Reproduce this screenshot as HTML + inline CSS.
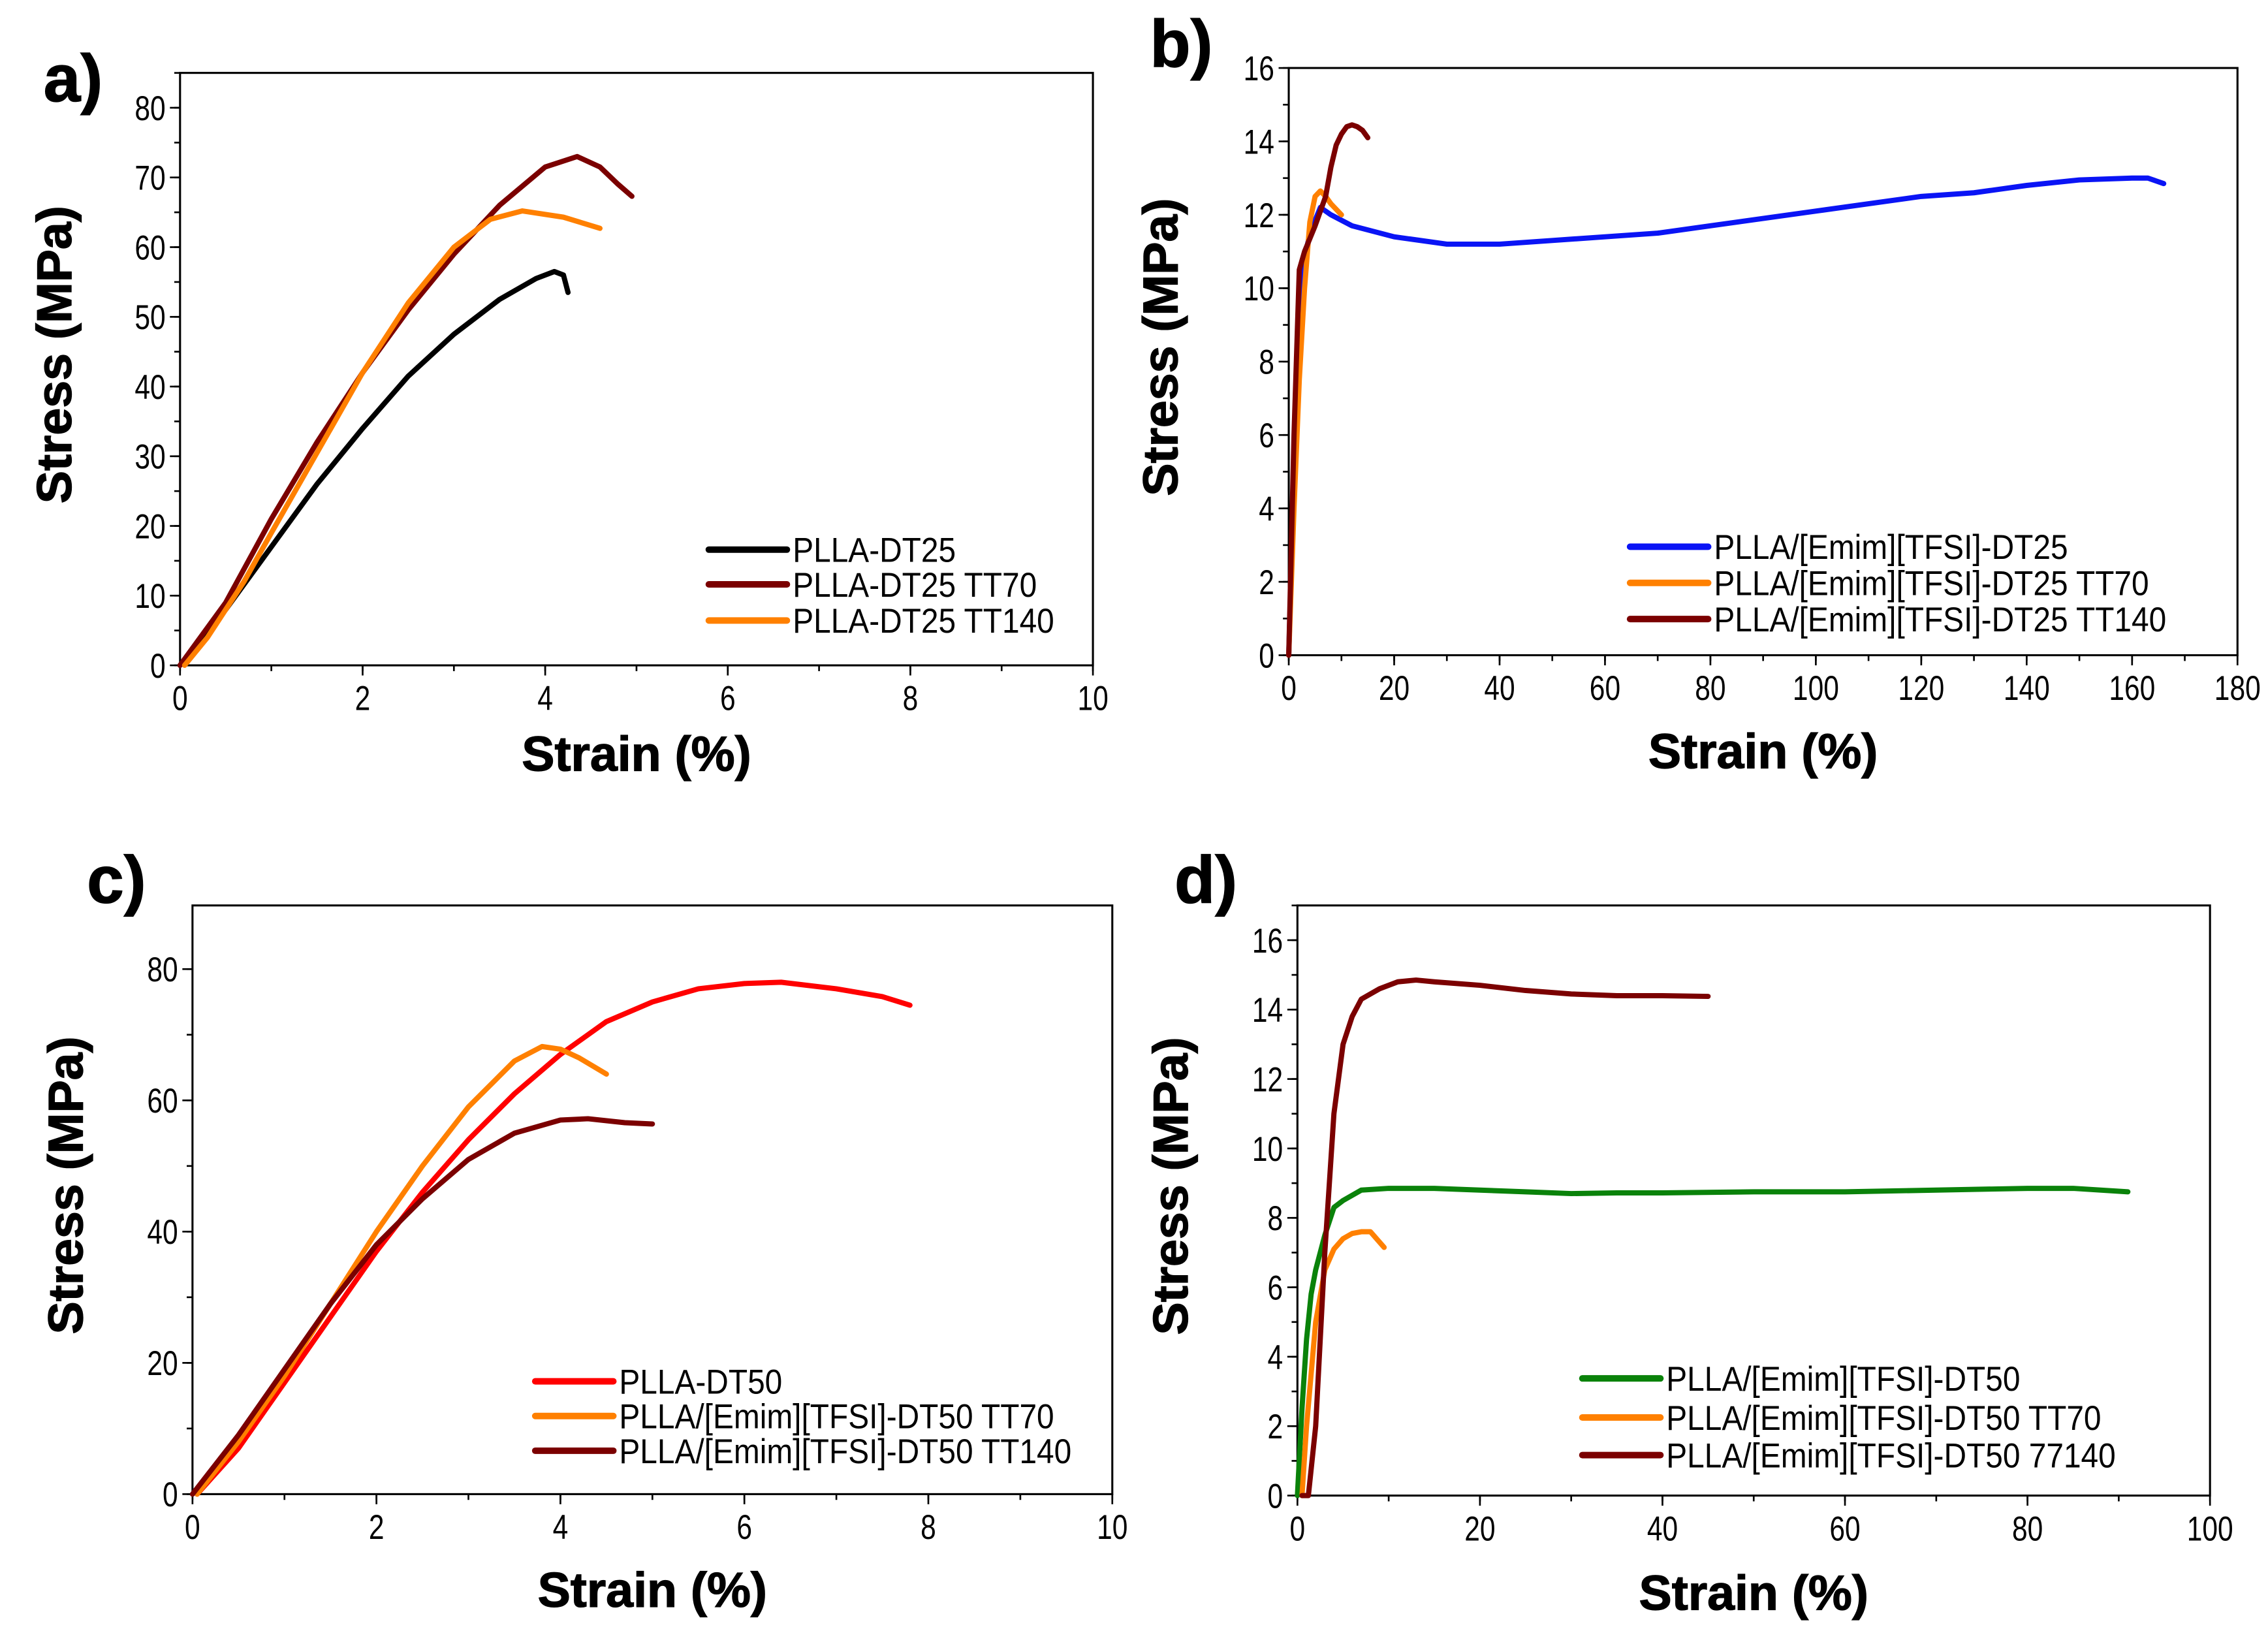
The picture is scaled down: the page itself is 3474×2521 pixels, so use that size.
<!DOCTYPE html>
<html><head><meta charset="utf-8"><style>
html,body{margin:0;padding:0;background:#fff;}
svg{display:block;}
.tick{font-family:"Liberation Sans",sans-serif;font-size:24px;fill:#000;}
.title{font-family:"Liberation Sans",sans-serif;font-weight:bold;font-size:34px;fill:#000;stroke:#000;stroke-width:0.6;}
.plabel{font-family:"Liberation Sans",sans-serif;font-weight:bold;font-size:46px;fill:#000;stroke:#000;stroke-width:0.6;}
.leg{font-family:"Liberation Sans",sans-serif;font-size:24px;fill:#000;}
</style></head><body>
<svg id="fig" width="3474" height="2521" viewBox="0 0 1568 1138" xmlns="http://www.w3.org/2000/svg"></svg>
<script>
// ---- Panel a data ----
const aBlackX=[0,0.5,1,1.5,2,2.5,3,3.5,3.9,4.1,4.2,4.25];
const aBlackY=[0,8,17,26,34,41.5,47.5,52.5,55.5,56.5,56,53.5];
const aRedX=[0,0.5,1,1.5,2,2.5,3,3.5,4,4.35,4.6,4.8,4.95];
const aRedY=[0,9,21,32,42,51,59,66,71.5,73,71.5,69,67.3];
const aOrgX=[0.05,0.3,0.7,1,1.5,2,2.5,3,3.4,3.75,4.2,4.6];
const aOrgY=[0,4,12,19,30.5,42,52,60,64,65.2,64.3,62.7];
const aXTicks=[0,2,4,6,8,10];
const aYTicks=[0,10,20,30,40,50,60,70,80];
// ---- Panel b data ----
const bBlueX=[0,1,2,3,4,6,8,12,20,30,40,50,60,70,80,90,100,110,120,130,140,150,160,163,166];
const bBlueY=[0,5,9,10.8,11.5,12.2,12,11.7,11.4,11.2,11.2,11.3,11.4,11.5,11.7,11.9,12.1,12.3,12.5,12.6,12.8,12.95,13,13,12.85];
const bOrgX=[0,1,2,3,4,5,6,7,8,10];
const bOrgY=[0,4,7.5,10,11.8,12.5,12.65,12.5,12.3,12];
const bRedX=[0,1,2,3,5,7,8,9,10,11,12,13,14,15];
const bRedY=[0,6,10.5,11,11.7,12.5,13.3,13.9,14.2,14.4,14.45,14.4,14.3,14.1];
const bXTicks=[0,20,40,60,80,100,120,140,160,180];
const bYTicks=[0,2,4,6,8,10,12,14,16];
// ---- Panel c data ----
const cRedX=[0.05,0.5,1,1.5,2,2.5,3,3.5,4,4.5,5,5.5,6,6.4,7,7.5,7.8];
const cRedY=[0,7,17,27,37,46,54,61,67,72,75,77,77.8,78,77,75.8,74.5];
const cOrgX=[0.05,0.5,1,1.5,2,2.5,3,3.5,3.8,4,4.2,4.5];
const cOrgY=[0,8,18,29,40,50,59,66,68.2,67.8,66.5,64];
const cDrkX=[0,0.5,1,1.5,2,2.5,3,3.5,4,4.3,4.7,5];
const cDrkY=[0,9,19,29,38,45,51,55,57,57.2,56.6,56.4];
const cXTicks=[0,2,4,6,8,10];
const cYTicks=[0,20,40,60,80];
// ---- Panel d data ----
const dGrnX=[0,0.5,1,1.5,2,3,4,5,7,10,15,20,25,30,35,40,50,60,70,80,85,91];
const dGrnY=[0,2.5,4.5,5.8,6.5,7.5,8.3,8.5,8.8,8.85,8.85,8.8,8.75,8.7,8.72,8.72,8.75,8.75,8.8,8.85,8.85,8.75];
const dOrgX=[0.5,1,2,3,4,5,6,7,8,9,9.5];
const dOrgY=[0,2,5,6.5,7.1,7.4,7.55,7.6,7.6,7.3,7.15];
const dRedX=[0.5,1.2,2,3,4,5,6,7,9,11,13,15,20,25,30,35,40,45];
const dRedY=[0,0,2,7,11,13,13.8,14.3,14.6,14.8,14.85,14.8,14.7,14.55,14.45,14.4,14.4,14.38];
const dXTicks=[0,20,40,60,80,100];
const dYTicks=[0,2,4,6,8,10,12,14,16];

const NS="http://www.w3.org/2000/svg";
const svg=document.getElementById('fig');
function mk(tag,attrs,parent){const e=document.createElementNS(NS,tag);for(const k in attrs)e.setAttribute(k,attrs[k]);(parent||svg).appendChild(e);return e;}
function narrowText(x,y,anchor,cls,str,parent,sc){
  const t=mk('text',{x:0,y:0,'text-anchor':anchor,class:cls,transform:`translate(${x},${y}) scale(${sc},1)`},parent);
  t.textContent=str;return t;
}

function panel(p){
  const g=mk('g',{});
  
  
  const sx=v=>p.L+(v-p.x0)/(p.x1-p.x0)*(p.R-p.L);
  const sy=v=>p.B-(v-p.y0)/(p.y1-p.y0)*(p.B-p.T);
  const frame=mk('rect',{x:p.L,y:p.T,width:p.R-p.L,height:p.B-p.T,fill:'none',stroke:'#000','stroke-width':1.4},g);
  
  
  for(let v=p.x0;v<=p.x1+1e-9;v+=p.xm){mk('line',{x1:sx(v),x2:sx(v),y1:p.B,y2:p.B+4,stroke:'#000','stroke-width':1.2},g);}
  for(let v=p.y0;v<=p.y1+1e-9;v+=p.ym){mk('line',{x1:p.L,x2:p.L-4,y1:sy(v),y2:sy(v),stroke:'#000','stroke-width':1.2},g);}
  p.xt.forEach(v=>{
    mk('line',{x1:sx(v),x2:sx(v),y1:p.B,y2:p.B+7,stroke:'#000','stroke-width':1.2},g);
    const t=narrowText(sx(v),p.B+31,'middle','tick',v,g,0.8);
    
    
  });
  p.yt.forEach(v=>{
    mk('line',{x1:p.L,x2:p.L-7,y1:sy(v),y2:sy(v),stroke:'#000','stroke-width':1.2},g);
    const t=narrowText(p.L-10,sy(v)+8.5,'end','tick',v,g,0.8);
    
    
  });
  const xt=mk('text',{x:(p.L+p.R)/2,y:p.xtY,'text-anchor':'middle',class:'title'},g);xt.textContent='Strain (%)';
  
  
  const yt=mk('text',{x:0,y:0,'text-anchor':'middle',class:'title',transform:`translate(${p.ytX},${(p.T+p.B)/2-10}) rotate(-90)`},g);yt.textContent='Stress (MPa)';
  
  
  const pl=mk('text',{x:p.plX,y:p.plY,class:'plabel'},g);pl.textContent=p.id+')';
  
  
  p.series.forEach((s,i)=>{
    const d=s.x.map((v,j)=>(j?'L':'M')+sx(v).toFixed(2)+','+sy(s.y[j]).toFixed(2)).join(' ');
    const path=mk('path',{d:d,fill:'none',stroke:s.c,'stroke-width':3.6,'stroke-linejoin':'round','stroke-linecap':'round'},g);
    
    
    const ly=p.legY[i];
    const ll=mk('line',{x1:p.legX,x2:p.legX+54,y1:ly,y2:ly,stroke:s.c,'stroke-width':4.5,'stroke-linecap':'round'},g);
    
    
    const lt=narrowText(p.legX+58,ly+8.5,'start','leg',s.n,g,0.9);
    
    
  });
}
const BLK='#000000',RED='#7b0000',ORG='#ff8000';
panel({id:'a',L:124.4,R:755.6,T:50.4,B:460,x0:0,x1:10,y0:0,y1:85,xm:1,ym:5,xt:aXTicks,yt:aYTicks,
  xtY:533,ytX:49,plX:30,plY:70,legX:490,legY:[380,404,429],
  series:[{x:aBlackX,y:aBlackY,c:BLK,n:'PLLA-DT25'},{x:aRedX,y:aRedY,c:RED,n:'PLLA-DT25 TT70'},{x:aOrgX,y:aOrgY,c:ORG,n:'PLLA-DT25 TT140'}]});
panel({id:'b',L:891,R:1547,T:47,B:453,x0:0,x1:180,y0:0,y1:16,xm:10,ym:1,xt:bXTicks,yt:bYTicks,
  xtY:531,ytX:814,plX:795,plY:46,legX:1127,legY:[378,403,428],
  series:[{x:bBlueX,y:bBlueY,c:'#0a14f5',n:'PLLA/[Emim][TFSI]-DT25'},{x:bOrgX,y:bOrgY,c:ORG,n:'PLLA/[Emim][TFSI]-DT25 TT70'},{x:bRedX,y:bRedY,c:RED,n:'PLLA/[Emim][TFSI]-DT25 TT140'}]});
panel({id:'c',L:133,R:769,T:626,B:1033,x0:0,x1:10,y0:0,y1:89.7,xm:1,ym:10,xt:cXTicks,yt:cYTicks,
  xtY:1111,ytX:57,plX:60,plY:624,legX:370,legY:[955,979,1003],
  series:[{x:cRedX,y:cRedY,c:'#ff0000',n:'PLLA-DT50'},{x:cOrgX,y:cOrgY,c:ORG,n:'PLLA/[Emim][TFSI]-DT50 TT70'},{x:cDrkX,y:cDrkY,c:RED,n:'PLLA/[Emim][TFSI]-DT50 TT140'}]});
panel({id:'d',L:897,R:1528,T:626,B:1034,x0:0,x1:100,y0:0,y1:17,xm:10,ym:1,xt:dXTicks,yt:dYTicks,
  xtY:1113,ytX:821,plX:812,plY:624,legX:1094,legY:[953,980,1006],
  series:[{x:dGrnX,y:dGrnY,c:'#0a820a',n:'PLLA/[Emim][TFSI]-DT50'},{x:dOrgX,y:dOrgY,c:ORG,n:'PLLA/[Emim][TFSI]-DT50 TT70'},{x:dRedX,y:dRedY,c:RED,n:'PLLA/[Emim][TFSI]-DT50 77140'}]});
</script>
</body></html>
